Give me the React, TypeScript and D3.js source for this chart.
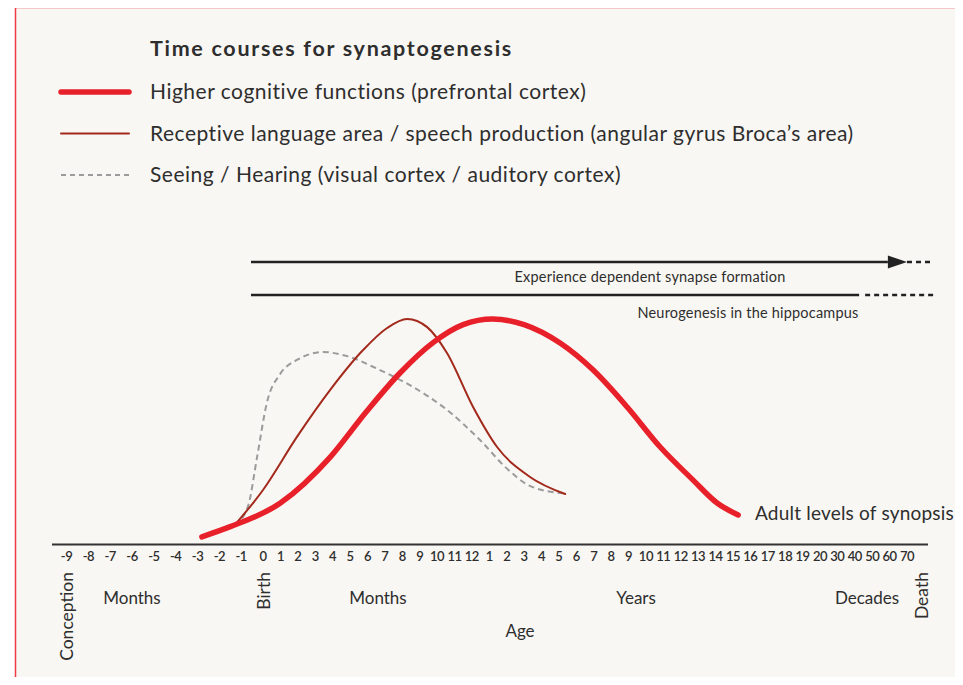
import React from "react";
import * as d3 from "d3";

// tick labels along the age axis
const monthsBefore = ["-9", "-8", "-7", "-6", "-5", "-4", "-3", "-2", "-1"];
const monthsAfter = ["0", "1", "2", "3", "4", "5", "6", "7", "8", "9", "10", "11", "12"];
const years = ["1", "2", "3", "4", "5", "6", "7", "8", "9", "10", "11", "12", "13", "14", "15", "16", "17", "18", "19", "20"];
const decades = ["30", "40", "50", "60", "70"];
const ageTicks = [...monthsBefore, ...monthsAfter, ...years, ...decades];

// curves: pos = position along the age axis (tick index), v = synapse density (peak = 100)
const higherCognitive = [
  { pos: 6.2, v: 3.2 }, { pos: 7.5, v: 7.7 }, { pos: 10.0, v: 18.2 }, { pos: 12.85, v: 38.5 },
  { pos: 14.96, v: 59 }, { pos: 16.87, v: 76 }, { pos: 18.77, v: 89.5 }, { pos: 20.5, v: 97.5 },
  { pos: 22.2, v: 100 }, { pos: 24.0, v: 97.5 }, { pos: 26.07, v: 89.3 }, { pos: 27.97, v: 77.3 },
  { pos: 29.92, v: 60.9 }, { pos: 31.82, v: 43.1 }, { pos: 33.71, v: 28.4 }, { pos: 35.09, v: 18.2 },
  { pos: 36.3, v: 12.9 },
];
const receptiveLanguage = [
  { pos: 7.63, v: 7.6 }, { pos: 9.0, v: 24 }, { pos: 10.95, v: 47.6 }, { pos: 12.85, v: 68.4 },
  { pos: 14.75, v: 86.2 }, { pos: 16.13, v: 96 }, { pos: 17.28, v: 100 }, { pos: 18.43, v: 96.4 },
  { pos: 19.57, v: 84.9 }, { pos: 21.07, v: 60.9 }, { pos: 22.45, v: 43.1 }, { pos: 24.34, v: 29.8 },
  { pos: 26.36, v: 22.2 },
];
const seeingHearing = [
  { pos: 7.72, v: 8.4 }, { pos: 8.32, v: 17 }, { pos: 8.73, v: 38.7 }, { pos: 9.23, v: 63 },
  { pos: 9.98, v: 75.5 }, { pos: 10.95, v: 81.8 }, { pos: 12.45, v: 85.3 }, { pos: 13.83, v: 83.5 },
  { pos: 15.72, v: 77.3 }, { pos: 17.62, v: 69.8 }, { pos: 19.57, v: 59.6 }, { pos: 21.47, v: 46.2 },
  { pos: 23.02, v: 33.5 }, { pos: 24.34, v: 25.8 }, { pos: 26.24, v: 22.5 },
];

// spans drawn above the curves (tick index)
const experienceSpan = { start: 8.45, solidEnd: 44.9, tip: 46.0, end: 47.5 };
const neurogenesisSpan = { start: 8.45, solidEnd: 43.25, end: 47.5 };

const legendItems = [
  { label: "Higher cognitive functions (prefrontal cortex)", color: "#e8202a", width: 5.5, dash: null },
  { label: "Receptive language area / speech production (angular gyrus Broca\u2019s area)", color: "#a2291b", width: 2, dash: null },
  { label: "Seeing / Hearing (visual cortex / auditory cortex)", color: "#9b9b9b", width: 1.8, dash: "5,4" },
];

const font = "Lato, 'Open Sans', sans-serif";
const textColor = "#2e2e2e";

export default function App() {
  const x = d3.scaleLinear().domain([0, 9, ageTicks.length - 1]).range([66.5, 263, 907]);
  const y = d3.scaleLinear().domain([0, 100]).range([544, 319]);

  const line = d3
    .line<{ pos: number; v: number }>()
    .x((d) => x(d.pos))
    .y((d) => y(d.v))
    .curve(d3.curveMonotoneX);

  const expY = 262;
  const neuroY = 295;
  const tipX = x(experienceSpan.tip);
  const baseX = x(experienceSpan.solidEnd);

  return (
    <div style={{ margin: -8 }}>
      <svg width={963} height={685} style={{ display: "block", fontFamily: font }}>
        <rect x={0} y={0} width={963} height={685} fill="#ffffff" />
        <rect x={15.5} y={7.5} width={1000} height={1000} fill="#f9f7f3" stroke="#ef3b43" strokeWidth={1.5} />

        {/* legend */}
        <text x={150} y={56} fontSize={21.5} fontWeight={700} fill={textColor} letterSpacing={1.7}>
          Time courses for synaptogenesis
        </text>
        {legendItems.map((d, i) => (
          <g key={d.label} transform={`translate(0,${92 + i * 41.5})`}>
            <line
              x1={61}
              x2={129}
              y1={0}
              y2={0}
              stroke={d.color}
              strokeWidth={d.width}
              strokeLinecap={d.dash ? "butt" : "round"}
              strokeDasharray={d.dash ?? undefined}
            />
            <text x={150} y={7} fontSize={21} fill={textColor} letterSpacing={0.5}>
              {d.label}
            </text>
          </g>
        ))}

        {/* experience dependent synapse formation */}
        <line x1={x(experienceSpan.start)} x2={baseX} y1={expY} y2={expY} stroke="#222" strokeWidth={2.5} />
        <path d={`M${baseX},${expY - 6.5}L${tipX},${expY}L${baseX},${expY + 6.5}Z`} fill="#222" />
        <line x1={tipX} x2={x(experienceSpan.end)} y1={expY} y2={expY} stroke="#222" strokeWidth={2.5} strokeDasharray="5,4" />
        <text x={650} y={282} fontSize={14.5} textAnchor="middle" fill={textColor} letterSpacing={0.2}>
          Experience dependent synapse formation
        </text>

        {/* neurogenesis */}
        <line x1={x(neurogenesisSpan.start)} x2={x(neurogenesisSpan.solidEnd)} y1={neuroY} y2={neuroY} stroke="#222" strokeWidth={2.5} />
        <line
          x1={x(neurogenesisSpan.solidEnd) + 6}
          x2={x(neurogenesisSpan.end)}
          y1={neuroY}
          y2={neuroY}
          stroke="#222"
          strokeWidth={2.5}
          strokeDasharray="5,4"
        />
        <text x={748} y={318} fontSize={14.5} textAnchor="middle" fill={textColor} letterSpacing={0.2}>
          Neurogenesis in the hippocampus
        </text>

        {/* curves */}
        <path d={line(seeingHearing) ?? ""} fill="none" stroke="#9b9b9b" strokeWidth={2} strokeDasharray="6,4" />
        <path d={line(receptiveLanguage) ?? ""} fill="none" stroke="#a2291b" strokeWidth={2} strokeLinecap="round" />
        <path d={line(higherCognitive) ?? ""} fill="none" stroke="#e8202a" strokeWidth={5.5} strokeLinecap="round" />
        <text x={755} y={520} fontSize={19} fill={textColor} letterSpacing={0.2}>
          Adult levels of synopsis
        </text>

        {/* age axis */}
        <line x1={52} x2={928} y1={544.5} y2={544.5} stroke="#333" strokeWidth={2} />
        {ageTicks.map((t, i) => (
          <text key={i} x={x(i)} y={561} fontSize={13} fontWeight={600} textAnchor="middle" fill={textColor} letterSpacing={-0.5}>
            {t}
          </text>
        ))}
        <text transform="translate(73,572) rotate(-90)" fontSize={17.5} textAnchor="end" fill={textColor}>
          Conception
        </text>
        <text transform="translate(269.5,572) rotate(-90)" fontSize={17.5} textAnchor="end" fill={textColor}>
          Birth
        </text>
        <text transform="translate(928,572) rotate(-90)" fontSize={17.5} textAnchor="end" fill={textColor}>
          Death
        </text>
        <text x={132} y={604} fontSize={17} textAnchor="middle" fill={textColor}>Months</text>
        <text x={378} y={604} fontSize={17} textAnchor="middle" fill={textColor}>Months</text>
        <text x={636} y={604} fontSize={17} textAnchor="middle" fill={textColor}>Years</text>
        <text x={867} y={604} fontSize={17} textAnchor="middle" fill={textColor}>Decades</text>
        <text x={520} y={637} fontSize={17} textAnchor="middle" fill={textColor}>Age</text>
      </svg>
    </div>
  );
}
